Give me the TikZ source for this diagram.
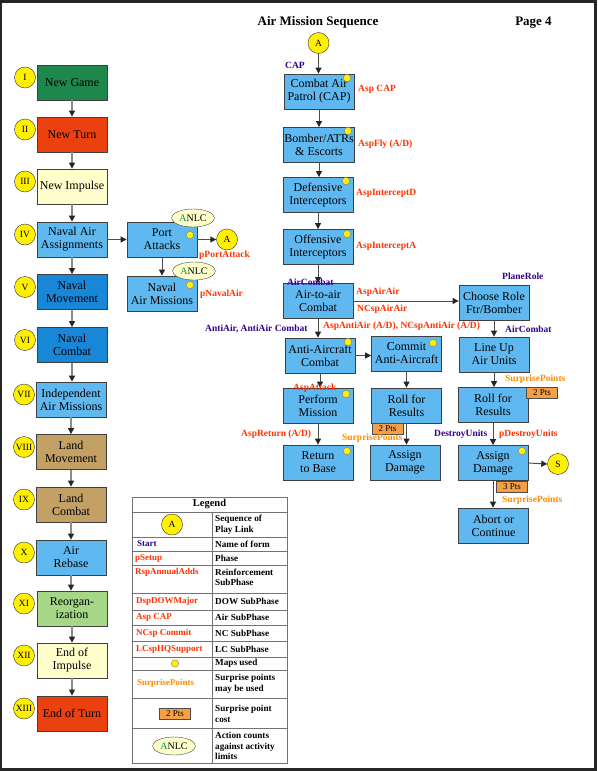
\documentclass[tikz,border=0pt]{standalone}
\usepackage{fontspec}
\setmainfont{Liberation Serif}
\usetikzlibrary{arrows.meta,shapes.geometric}
\definecolor{lblue}{RGB}{95,185,240}
\definecolor{dblue}{RGB}{25,135,215}
\definecolor{dgreen}{RGB}{30,135,75}
\definecolor{ored}{RGB}{235,65,15}
\definecolor{lyel}{RGB}{255,255,204}
\definecolor{tanbox}{RGB}{195,160,100}
\definecolor{lgreen}{RGB}{165,215,135}
\definecolor{lblred}{RGB}{255,51,0}
\definecolor{navyl}{RGB}{51,0,140}
\definecolor{sporange}{RGB}{255,140,0}
\definecolor{ptsfill}{RGB}{245,160,70}
\definecolor{cyel}{RGB}{255,240,0}
\definecolor{anlcgreen}{RGB}{0,150,60}
\tikzset{
  box/.style={draw=black!75, line width=0.8pt, minimum width=70pt, minimum height=35pt, align=center, inner sep=1pt, font=\fontsize{12}{13}\selectfont},
  num/.style={circle, draw=black!80, fill=cyel, minimum size=21pt, inner sep=0pt, font=\fontsize{9.5}{9.5}\selectfont},
  ydot/.style={circle, draw=black!50, fill=cyel, minimum size=7.5pt, inner sep=0pt},
  redl/.style={anchor=west, text=lblred, inner sep=0pt, font=\bfseries\fontsize{9.5}{10}\selectfont},
  navl/.style={anchor=west, text=navyl, inner sep=0pt, font=\bfseries\fontsize{9.5}{10}\selectfont},
  orl/.style={anchor=west, text=sporange, inner sep=0pt, font=\bfseries\fontsize{9.5}{10}\selectfont},
  pts/.style={draw=black!70, fill=ptsfill, minimum width=31pt, minimum height=11pt, inner sep=0pt, font=\fontsize{9}{9}\selectfont},
  anlc/.style={ellipse, draw=black!70, fill=lyel, minimum width=43pt, minimum height=18pt, inner sep=0pt, font=\fontsize{10}{10}\selectfont},
  garrow/.style={draw=black!45, line width=1.2pt, -{Triangle[length=6pt,width=6pt,color=black!85]}},
  darrow/.style={draw=black!70, line width=1pt, -{Triangle[length=6pt,width=6pt,color=black!85]}},
  legt/.style={anchor=west, align=left, inner sep=0pt, font=\bfseries\fontsize{9.2}{10.5}\selectfont},
  legline/.style={draw=black!55, line width=0.8pt}
}
\begin{document}
\begin{tikzpicture}[x=1pt,y=-1pt]
\useasboundingbox (0,0) rectangle (597,771);
\fill[black!85] (0,0) rectangle (597,771);
\fill[white] (2,3) rectangle (594,768);

% title
\node[font=\bfseries\fontsize{13}{14}\selectfont] (title) at (318,22) {Air Mission Sequence};
\node[font=\bfseries\fontsize{13}{14}\selectfont] (page) at (533.5,23) {Page 4};

% left column
\node[box, fill=dgreen] (g1) at (72,82.5) {New Game};
\node[box, fill=ored] (g2) at (72,134.5) {New Turn};
\node[box, fill=lyel] (g3) at (72,186.5) {New Impulse};
\node[box, fill=lblue] (g4) at (72,239.5) {Naval Air\\Assignments};
\node[box, fill=dblue] (g5) at (72,292) {Naval\\Movement};
\node[box, fill=dblue] (g6) at (72,345) {Naval\\Combat};
\node[box, fill=lblue] (g7) at (71,399.5) {Independent\\Air Missions};
\node[box, fill=tanbox] (g8) at (71,452) {Land\\Movement};
\node[box, fill=tanbox] (g9) at (71,504.5) {Land\\Combat};
\node[box, fill=lblue] (g10) at (71,557.5) {Air\\Rebase};
\node[box, fill=lgreen] (g11) at (72,608.5) {Reorgan-\\ization};
\node[box, fill=lyel] (g12) at (72,660.5) {End of\\Impulse};
\node[box, fill=ored] (g13) at (72,713.5) {End of Turn};

\node[num] (n1) at (25,77.5) {I};
\node[num] (n2) at (25,129.5) {II};
\node[num] (n3) at (25,181.5) {III};
\node[num] (n4) at (25,234.5) {IV};
\node[num] (n5) at (25,287) {V};
\node[num] (n6) at (25,340) {VI};
\node[num] (n7) at (24,394.5) {VII};
\node[num] (n8) at (24,447) {VIII};
\node[num] (n9) at (24,499.5) {IX};
\node[num] (n10) at (24,552.5) {X};
\node[num] (n11) at (24,603.5) {XI};
\node[num] (n12) at (24,655.5) {XII};
\node[num] (n13) at (24,708.5) {XIII};

\foreach \a/\b in {g1/g2,g2/g3,g3/g4,g4/g5,g5/g6,g6/g7,g7/g8,g8/g9,g9/g10,g10/g11,g11/g12,g12/g13}
  \draw[garrow] (\a.south) -- (\a.south |- \b.north);

% port attacks
\node[box, fill=lblue] (pa) at (162,239.5) {Port\\Attacks};
\node[box, fill=lblue] (nam) at (162,293.5) {Naval\\Air Missions};
\node[ydot] (dpa) at (190,235) {};
\node[ydot] (dnam) at (190,285) {};
\node[anlc] (an1) at (193,218) {\textcolor{anlcgreen}{A}NLC};
\node[anlc] (an2) at (194,271) {\textcolor{anlcgreen}{A}NLC};
\node[num] (la) at (227,239.5) {A};
\draw[darrow] (g4.east) -- (pa.west);
\draw[darrow] (pa.east) -- (la.west);
\draw[darrow] (pa.south) -- (pa.south |- nam.north);
\node[redl] (lpa) at (199,255) {pPortAttack};
\node[redl] (lna) at (200,294) {pNavalAir};

% air mission column 1
\node[num] (ta) at (318.5,43) {A};
\node[box, fill=lblue] (cap) at (319,91.5) {Combat Air\\Patrol (CAP)};
\node[box, fill=lblue] (bomb) at (319,145) {Bomber/ATRs\\\& Escorts};
\node[box, fill=lblue] (def) at (318,195) {Defensive\\Interceptors};
\node[box, fill=lblue] (off) at (318,247) {Offensive\\Interceptors};
\node[box, fill=lblue] (a2a) at (318,301) {Air-to-air\\Combat};
\node[box, fill=lblue] (aac) at (320,355.5) {Anti-Aircraft\\Combat};
\node[box, fill=lblue] (perf) at (318,405.5) {Perform\\Mission};
\node[box, fill=lblue] (ret) at (318,462.5) {Return\\to Base};

% column 2
\node[box, fill=lblue] (commit) at (406.5,353.5) {Commit\\Anti-Aircraft};
\node[box, fill=lblue] (roll2) at (406.5,405.5) {Roll for\\Results};
\node[box, fill=lblue] (asg2) at (405,462.5) {Assign\\Damage};

% column 3
\node[box, fill=lblue] (choose) at (494,302.5) {Choose Role\\Ftr/Bomber};
\node[box, fill=lblue] (lineup) at (494,354.5) {Line Up\\Air Units};
\node[box, fill=lblue] (roll3) at (493,405) {Roll for\\Results};
\node[box, fill=lblue] (asg3) at (493,463) {Assign\\Damage};
\node[box, fill=lblue] (abort) at (493.5,525.5) {Abort or\\Continue};
\node[num] (ts) at (558,464) {S};

% dots
\node[ydot] (d1) at (347,78) {};
\node[ydot] (d2) at (348,131) {};
\node[ydot] (d3) at (346,181) {};
\node[ydot] (d4) at (347,234) {};
\node[ydot] (d5) at (348,342) {};
\node[ydot] (d6) at (433,343) {};
\node[ydot] (d7) at (346,394) {};
\node[ydot] (d8) at (347,451) {};
\node[ydot] (d9) at (522,451) {};

% pts boxes
\node[pts] (p2a) at (387.5,428.5) {2 Pts};
\node[pts] (p2b) at (542,392.5) {2 Pts};
\node[pts] (p3) at (512,486.5) {3 Pts};

% arrows
\foreach \a/\b in {ta/cap,cap/bomb,bomb/def,def/off,off/a2a,a2a/aac,aac/perf,perf/ret,commit/roll2,roll2/asg2,choose/lineup,lineup/roll3,roll3/asg3,asg3/abort}
  \draw[darrow] (\a.south) -- (\a.south |- \b.north);
\draw[darrow] (a2a.east) -- (a2a.east -| choose.west);
\draw[darrow] (aac.east) -- (aac.east -| commit.west);
\draw[darrow] (asg3.east) -- (ts.west);

% labels
\node[navl] (lcap) at (285,65) {CAP};
\node[redl] (l1) at (358,89) {Asp CAP};
\node[redl] (l2) at (358,144) {AspFly (A/D)};
\node[redl] (l3) at (356,193) {AspInterceptD};
\node[redl] (l4) at (356,246) {AspInterceptA};
\node[navl] (l5) at (287,282) {AirCombat};
\node[redl] (l6) at (356,292) {AspAirAir};
\node[redl] (l7) at (357,309) {NCspAirAir};
\node[navl] (l8) at (502,276) {PlaneRole};
\node[navl] (l9) at (205,329) {AntiAir, AntiAir Combat};
\node[redl] (l10) at (323,326) {AspAntiAir (A/D), NCspAntiAir (A/D)};
\node[navl] (l11) at (505,329) {AirCombat};
\node[orl] (l12) at (505,379) {SurprisePoints};
\node[redl] (l13) at (293,388) {AspAttack};
\node[redl] (l14) at (241,434) {AspReturn (A/D)};
\node[navl] (l15) at (434,434) {DestroyUnits};
\node[redl] (l16) at (499,434) {pDestroyUnits};
\node[orl] (l17) at (342,438) {SurprisePoints};
\node[orl] (l18) at (502,500) {SurprisePoints};

% legend
\draw[legline] (132,497) rectangle (287,763);
\foreach \yy in {512,537,551,565,593,610,625,641,657,670,698,728}
  \draw[legline] (132,\yy) -- (287,\yy);
\draw[legline] (212,512) -- (212,763);
\node[font=\bfseries\fontsize{10.5}{11}\selectfont] (lgh) at (209.5,504.5) {Legend};
\node[num] (lga) at (172,524.5) {A};
\node[legt] (lr1) at (215,524.5) {Sequence of\\Play Link};
\node[navl, font=\bfseries\fontsize{9}{10}\selectfont] (lk2) at (137,544) {Start};
\node[legt] (lr2) at (215,544) {Name of form};
\node[redl, font=\bfseries\fontsize{9}{10}\selectfont] (lk3) at (135,558) {pSetup};
\node[legt] (lr3) at (215,558) {Phase};
\node[redl, font=\bfseries\fontsize{9}{10}\selectfont] (lk4) at (135,572) {RspAnnualAdds};
\node[legt] (lr4) at (215,577.5) {Reinforcement\\SubPhase};
\node[redl, font=\bfseries\fontsize{9}{10}\selectfont] (lk5) at (136,601) {DspDOWMajor};
\node[legt] (lr5) at (215,601.5) {DOW SubPhase};
\node[redl, font=\bfseries\fontsize{9}{10}\selectfont] (lk6) at (136,617) {Asp CAP};
\node[legt] (lr6) at (215,617.5) {Air SubPhase};
\node[redl, font=\bfseries\fontsize{9}{10}\selectfont] (lk7) at (136,633) {NCsp Commit};
\node[legt] (lr7) at (215,633.5) {NC SubPhase};
\node[redl, font=\bfseries\fontsize{9}{10}\selectfont] (lk8) at (136,649) {LCspHQSupport};
\node[legt] (lr8) at (215,649.5) {LC SubPhase};
\node[ydot] (lk9) at (175,663.5) {};
\node[legt] (lr9) at (215,663.5) {Maps used};
\node[orl, font=\bfseries\fontsize{9}{10}\selectfont] (lk10) at (137,683) {SurprisePoints};
\node[legt] (lr10) at (215,684) {Surprise points\\may be used};
\node[pts] (lk11) at (175,714) {2 Pts};
\node[legt] (lr11) at (215,714) {Surprise point\\cost};
\node[anlc] (lk12) at (174,746) {\textcolor{anlcgreen}{A}NLC};
\node[legt] (lr12) at (215,746) {Action counts\\against activity\\limits};
\end{tikzpicture}
\end{document}
